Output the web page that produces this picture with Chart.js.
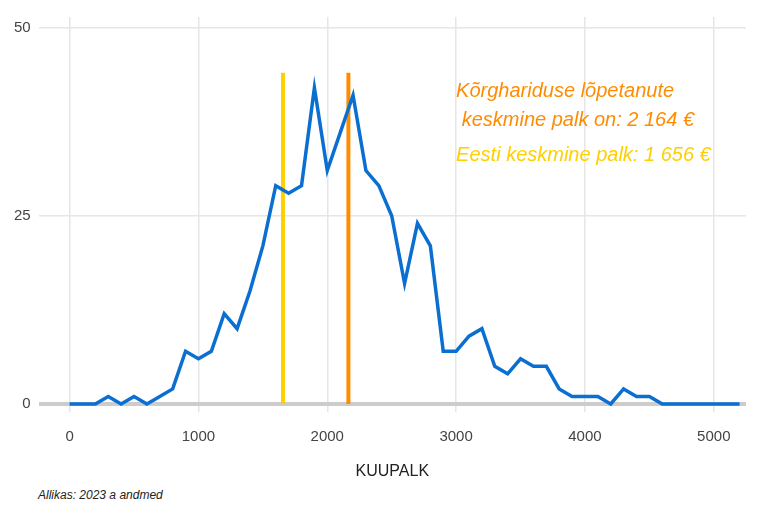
<!DOCTYPE html><html><head><meta charset="utf-8">
<script src="https://cdn.jsdelivr.net/npm/chart.js@4"></script>
<style>body{margin:0;background:#fff;font-family:"Liberation Sans",Arial,sans-serif}#w{position:relative;width:768px;height:512px}
#cap{position:absolute;left:38px;top:488px;font-size:12px;font-style:italic;color:#222}</style></head><body>
<div id="w"><canvas id="c" width="768" height="485"></canvas><div id="cap">Allikas: 2023 a andmed</div></div>
<script>
const salary=[0,100,200,300,400,500,600,700,800,900,1000,1100,1200,1300,1400,1500,1600,1700,1800,1900,2000,2100,2200,2300,2400,2500,2600,2700,2800,2900,3000,3100,3200,3300,3400,3500,3600,3700,3800,3900,4000,4100,4200,4300,4400,4500,4600,4700,4800,4900,5000,5100,5200];
const counts=[0,0,0,1,0,1,0,1,2,7,6,7,12,10,15,21,29,28,29,42,31,36,41,31,29,25,16,24,21,7,7,9,10,5,4,6,5,5,2,1,1,1,0,2,1,1,0,0,0,0,0,0,0];
const xTicks=[0,1000,2000,3000,4000,5000];
const yTicks=[0,25,50];
const meanHigher=2164, meanAll=1656, vTop=44;
const labels=["Kõrghariduse lõpetanute"," keskmine palk on: 2 164 €","Eesti keskmine palk: 1 656 €"];
const ann={id:'ann',afterDatasetsDraw(ch){const {ctx,scales:{x,y}}=ch;ctx.save();
 ctx.font='italic 20px "Liberation Sans", Arial';ctx.textBaseline='middle';
 ctx.fillStyle='#FF8C00';ctx.fillText(labels[0],x.getPixelForValue(3000),y.getPixelForValue(41.5));
 ctx.fillText(labels[1],x.getPixelForValue(3000),y.getPixelForValue(37.6));
 ctx.fillStyle='#FFD000';ctx.fillText(labels[2],x.getPixelForValue(3000),y.getPixelForValue(33));ctx.restore();}};
new Chart(document.getElementById('c'),{type:'line',
data:{datasets:[
 {data:salary.map((s,i)=>({x:s,y:counts[i]})),borderColor:'#0a6fd0',borderWidth:3.5,pointRadius:0,tension:0,order:0},
 {data:[{x:meanAll,y:0},{x:meanAll,y:vTop}],borderColor:'#FFD000',borderWidth:4,pointRadius:0,order:1},
 {data:[{x:meanHigher,y:0},{x:meanHigher,y:vTop}],borderColor:'#FF8C00',borderWidth:4,pointRadius:0,order:1}]},
options:{responsive:false,animation:false,layout:{padding:{top:8,right:22,left:6}},plugins:{legend:{display:false},tooltip:{enabled:false}},
scales:{x:{type:'linear',min:-240,max:5250,afterBuildTicks(a){a.ticks=xTicks.map(v=>({value:v}))},
 grid:{color:'#e6e6e6',drawTicks:false,lineWidth:1.5},border:{display:false},
 ticks:{color:'#444',font:{size:15,family:'"Liberation Sans", Arial'},padding:16,callback:v=>String(v)},title:{display:true,text:'KUUPALK',color:'#222',font:{size:16,family:'"Liberation Sans", Arial'},padding:{top:0}}},
 y:{min:-1.04,max:51.4,afterBuildTicks(a){a.ticks=yTicks.map(v=>({value:v}))},
 grid:{color:c=>c.tick&&c.tick.value===0?'#cccccc':'#e6e6e6',lineWidth:c=>c.tick&&c.tick.value===0?4:1.5,drawTicks:false},border:{display:false},
 ticks:{color:'#444',font:{size:15,family:'"Liberation Sans", Arial'},padding:8}}}},plugins:[ann]});
</script></body></html>
